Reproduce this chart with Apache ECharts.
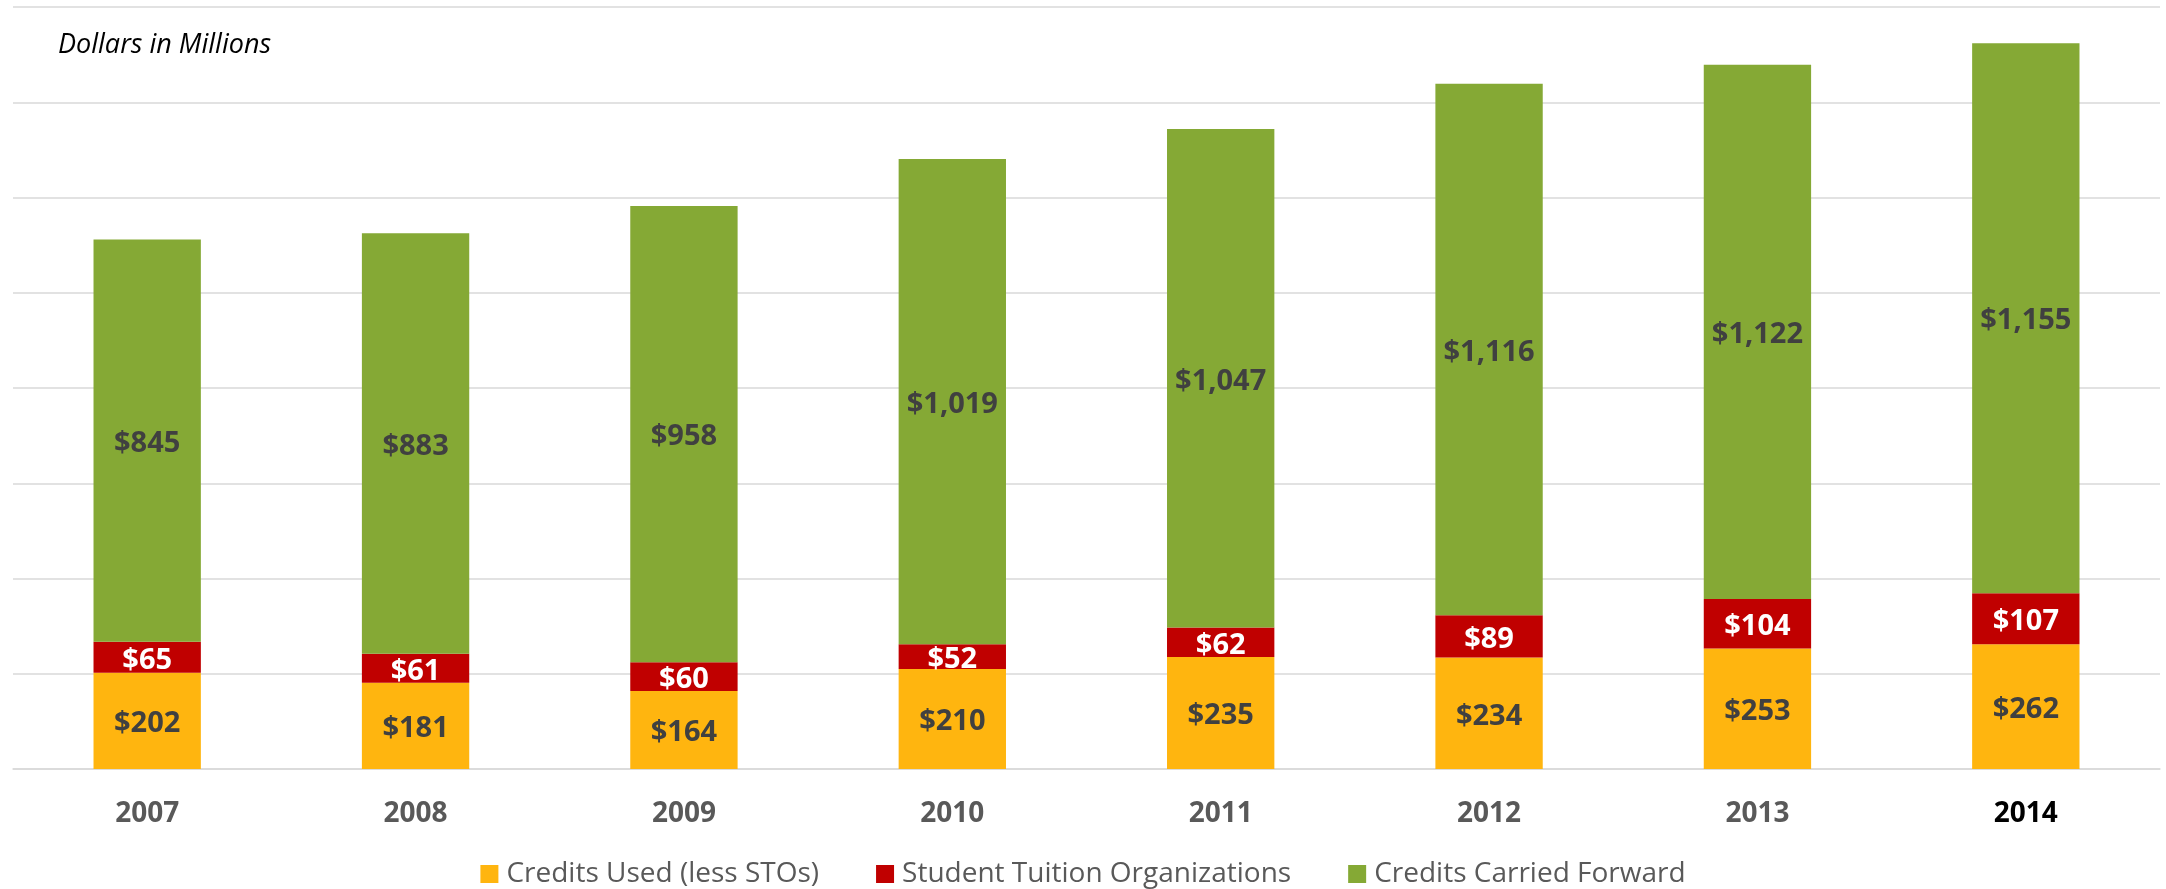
<!DOCTYPE html>
<html><head><meta charset="utf-8">
<script src="https://cdn.jsdelivr.net/npm/echarts@6/dist/echarts.min.js"></script>
<style>html,body{margin:0;padding:0;background:#fff}#c{width:2166px;height:889px}</style>
</head><body><div id="c"></div>
<script>
const years = ['2007','2008','2009','2010','2011','2012','2013','2014'];
const creditsUsed = [202,181,164,210,235,234,253,262];
const stos = [65,61,60,52,62,89,104,107];
const carriedForward = [845,883,958,1019,1047,1116,1122,1155];
const seriesNames = ['Credits Used (less STOs)','Student Tuition Organizations','Credits Carried Forward'];
const yMax = 1600, yStep = 200;

const font = '"Open Sans", "Liberation Sans", sans-serif';
const chart = echarts.init(document.getElementById('c'));
function lbl(color){
  return {show:true, position:'inside', offset:[0,3], color:color, fontFamily:font, fontWeight:'bold', fontSize:29,
    formatter: p => '$' + p.value.toLocaleString('en-US')};
}
chart.setOption({
  animation:false,
  grid:{left:13, right:6, top:7, bottom:120, containLabel:false},
  graphic:[{type:'text', left:58, top:32, style:{text:'Dollars in Millions', font:'italic 27px "Open Sans", sans-serif', fill:'#000'}}],
  legend:{top:855, left:'center', itemWidth:18, itemHeight:18, itemGap:57, icon:'rect',
    textStyle:{fontFamily:font, fontSize:28, color:'#595959', padding:[0,0,0,3]},
    data:seriesNames},
  xAxis:{type:'category', data:years, axisTick:{show:false},
    axisLine:{lineStyle:{color:'#d9d9d9', width:1.5}},
    axisLabel:{margin:31, fontFamily:font, fontWeight:'bold', fontSize:28,
      color:(v,i)=> v==='2014' ? '#000000' : '#595959'}},
  yAxis:{type:'value', min:0, max:yMax, interval:yStep, axisLabel:{show:false},
    axisLine:{show:false}, axisTick:{show:false},
    splitLine:{lineStyle:{color:'#d9d9d9', width:1.5}}},
  series:[
    {name:seriesNames[0], type:'bar', stack:'s', data:creditsUsed, barWidth:'40%',
      itemStyle:{color:'#FFB50F'}, label:lbl('#404040')},
    {name:seriesNames[1], type:'bar', stack:'s', data:stos,
      itemStyle:{color:'#C00000'}, label:lbl('#ffffff')},
    {name:seriesNames[2], type:'bar', stack:'s', data:carriedForward,
      itemStyle:{color:'#85A935'}, label:lbl('#404040')}
  ]
});
</script></body></html>
